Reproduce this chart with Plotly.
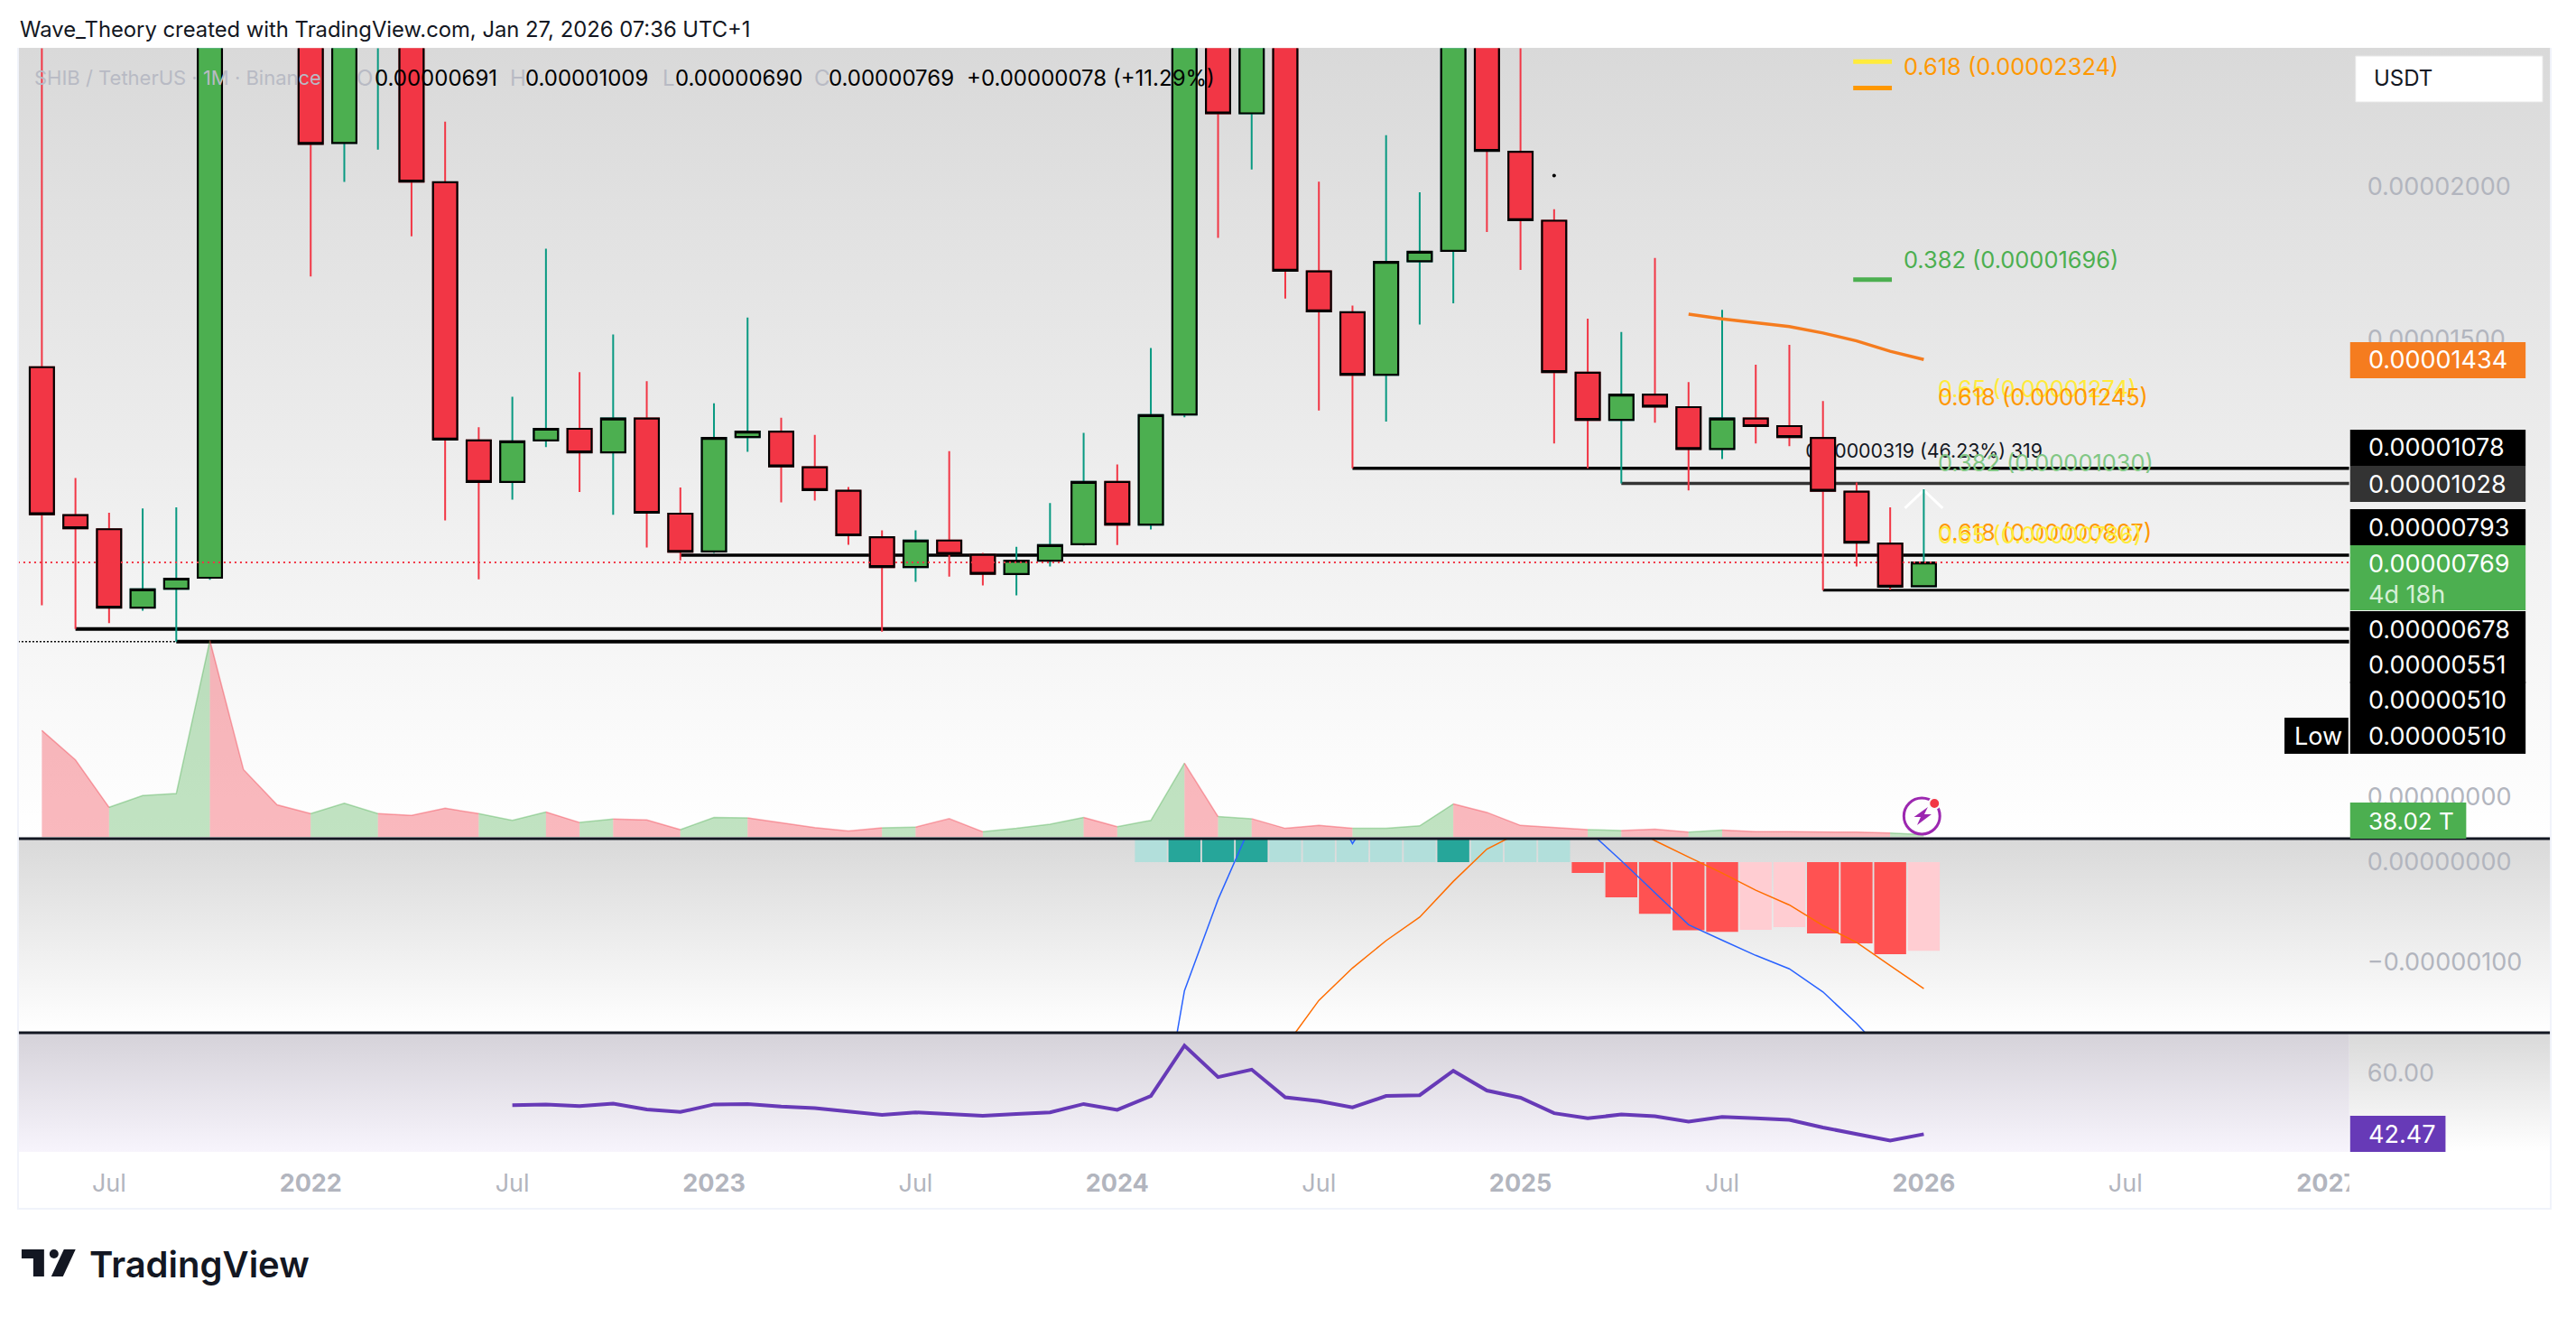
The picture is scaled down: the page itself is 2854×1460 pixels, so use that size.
import base64

import plotly.graph_objects as go

W, H = 2854, 1460

# all prices are in millionths (1e-6 USDT), month 0 = May 2021
opens = [14.09, 9.24, 8.78, 6.21, 6.83, 7.19, 70, 45, 33, 21.44, 24.8, 27.5, 20.15, 11.69, 10.33, 11.69, 12.07, 11.30, 12.41,
         9.29, 8.05, 11.80, 11.98, 10.81, 10.04, 8.52, 7.54, 8.41, 7.94, 7.31, 7.75, 8.29, 10.33, 8.93, 12.54, 27, 22.41, 25.5,
         17.23, 15.89, 13.84, 17.56, 17.90, 29, 21.15, 18.89, 13.91, 12.36, 13.19, 12.78, 11.41, 12.41, 12.16, 11.77, 10.01, 8.31, 6.91]
highs = [38, 10.46, 9.32, 9.46, 9.50, 88, 72, 48, 35, 32, 31, 29, 22.14, 12.12, 13.12, 17.97, 13.93, 15.16, 13.63,
         10.15, 12.91, 15.72, 12.43, 11.87, 10.16, 8.74, 8.74, 11.34, 8.00, 8.20, 9.64, 11.94, 10.90, 14.72, 45, 36, 33, 30,
         20.17, 16.11, 21.69, 19.82, 34, 33, 25.5, 19.27, 15.68, 15.24, 17.67, 13.60, 15.97, 14.17, 14.82, 12.98, 10.31, 9.50, 10.09]
lows = [6.29, 5.51, 5.70, 6.11, 5.10, 7.12, 38, 27, 17.06, 20.16, 21.22, 18.38, 9.07, 7.14, 9.75, 11.47, 10.00, 9.25, 8.18,
        7.76, 8.00, 11.32, 9.66, 9.72, 8.27, 5.42, 7.06, 7.23, 6.94, 6.61, 7.56, 8.25, 8.26, 8.77, 12.45, 18.33, 20.57, 16.34,
        12.67, 10.78, 12.31, 15.49, 16.18, 18.52, 17.28, 11.59, 10.78, 10.28, 12.27, 10.05, 11.08, 11.59, 11.50, 6.78, 7.56, 6.80, 6.90]
closes = [9.27, 8.81, 6.21, 6.81, 7.16, 70, 45, 33, 21.41, 28, 27.5, 20.17, 11.72, 10.33, 11.66, 12.07, 11.30, 12.41, 9.32,
          8.04, 11.77, 11.98, 10.84, 10.06, 8.58, 7.54, 8.41, 7.97, 7.32, 7.75, 8.26, 10.33, 8.93, 12.52, 27, 22.41, 25.5, 17.25,
          15.92, 13.84, 17.54, 17.87, 29, 21.18, 18.91, 13.93, 12.36, 13.19, 12.80, 11.41, 12.41, 12.16, 11.80, 10.04, 8.34, 6.90, 7.69]
months = list(range(len(closes)))

# volume in trillions
volume = [1923, 1391, 532, 745, 783, 3549, 1216, 578, 418, 608, 418, 388, 517, 418, 296, 448, 258, 319, 304,
          129, 350, 342, 251, 167, 106, 160, 175, 327, 91, 152, 228, 350, 182, 296, 1330, 365, 327, 152,
          205, 152, 152, 198, 593, 441, 205, 167, 129, 114, 137, 84, 122, 91, 91, 91, 84, 68, 38.02]

ema_months = [49, 50, 51, 52, 53, 54, 55, 56]
ema_values = [15.83, 15.67, 15.55, 15.42, 15.21, 14.95, 14.61, 14.34]

# drawn levels: price, first month, colour, width
level_prices = [10.78, 10.28, 7.93, 6.78, 5.51, 5.10]
level_starts = [39, 47, 19, 53, 1, 4]
level_colors = ['#000000', '#333333', '#000000', '#000000', '#000000', '#000000']
level_widths = [3.5, 3.5, 3.5, 3, 4, 4]
last_price = 7.69

fib_prices = [24.10, 23.24, 16.96]
fib_colors = ['#ffeb3b', '#ff9800', '#4caf50']
fib_start, fib_end = 53.9, 55.05

macd_months = list(range(33, 57))
macd_values = [-3.2, -1.284, -0.373, 0.39, 1.0, 0.8, 0.185, 0.7, 1.0, 1.4, 1.3, 1.0, 0.6, 0.32, 0.013, -0.302, -0.625,
               -0.78, -0.931, -1.065, -1.296, -1.611, -1.967, -2.15]
hist_values = [0.5, 1.2, 1.6, 1.9, 1.8, 1.6, 1.3, 1.1, 1.0, 1.2, 1.0, 0.7, 0.3, -0.109, -0.352, -0.516, -0.68, -0.696,
               -0.675, -0.65, -0.713, -0.81, -0.919, -0.885]
hist_colors = ['#b2dfdb', '#26a69a', '#26a69a', '#26a69a', '#b2dfdb', '#b2dfdb', '#b2dfdb', '#b2dfdb', '#b2dfdb', '#26a69a',
               '#b2dfdb', '#b2dfdb', '#b2dfdb', '#ff5252', '#ff5252', '#ff5252', '#ff5252', '#ff5252', '#ffcdd2', '#ffcdd2',
               '#ff5252', '#ff5252', '#ff5252', '#ffcdd2']
signal_months = list(range(37, 57))
signal_values = [-1.84, -1.38, -1.057, -0.784, -0.549, -0.193, 0.13, 0.3, 0.45, 0.5, 0.4, 0.214, 0.05, -0.109, -0.281,
                 -0.428, -0.633, -0.801, -1.032, -1.263]

rsi_months = list(range(14, 57))
rsi_values = [50.75, 50.99, 50.51, 51.23, 49.54, 48.82, 50.99, 51.11, 50.39, 49.91, 48.94, 47.98, 48.70, 48.34, 47.74,
              48.22, 48.70, 51.11, 49.42, 53.39, 67.82, 58.80, 60.96, 53.03, 51.95, 50.15, 53.39, 53.63, 60.60, 54.95,
              52.91, 48.46, 47.02, 48.10, 47.62, 46.06, 47.38, 47.02, 46.54, 44.38, 42.57, 40.65, 42.47]

tick_months = [2, 8, 14, 20, 26, 32, 38, 44, 50, 56, 62, 68]
tick_labels = ['Jul', '<b>2022</b>', 'Jul', '<b>2023</b>', 'Jul', '<b>2024</b>', 'Jul', '<b>2025</b>', 'Jul', '<b>2026</b>', 'Jul', '<b>2027</b>']

legend_x = [36, 394, 414, 565, 582, 734, 748, 903, 919, 1072]
legend_text = ['SHIB / TetherUS · 1M · Binance', 'O', '0.00000691', 'H', '0.00001009', 'L', '0.00000690', 'C', '0.00000769',
               '+0.00000078 (+11.29%)']

# axis labels: text, top pixel, bottom pixel, background
tag_text = ['0.00001434', '0.00001078', '0.00001028', '0.00000793', '0.00000678', '0.00000551', '0.00000510', '0.00000510']
tag_top = [379, 476, 516, 564, 677, 717, 755, 795]
tag_bottom = [419, 516, 556, 604, 717, 757, 795, 835]
tag_color = ['#f57c1f', '#000000', '#333333', '#000000', '#000000', '#000000', '#000000', '#000000']

fib_text = ['0.618 (0.00002324)', '0.382 (0.00001696)', '0.65 (0.00001274)', '0.618 (0.00001245)', '0.382 (0.00001030)',
            '0.618 (0.00000807)', '0.65 (0.00000786)']
fib_text_x = [2114, 2114, 2152, 2152, 2152, 2152, 2152]
fib_text_y = [74, 287, 430, 439, 512, 589, 592]
fib_text_color = ['#ff9800', '#4caf50', '#ffeb3b', '#ff9800', '#81c784', '#ff9800', '#ffeb3b']


def px(x):
    return x / W


def py(y):
    return 1 - y / H


def text(x, y, s, color, size, anchor='left', weight=None):
    return dict(xref='paper', yref='paper', x=px(x), y=py(y), text=s, showarrow=False, xanchor=anchor, yanchor='middle',
                xshift=0, font=dict(family='Inter', size=size, color=color, weight=weight))


def box(x0, y0, x1, y1, color):
    return dict(type='rect', xref='paper', yref='paper', x0=px(x0), x1=px(x1), y0=py(y0), y1=py(y1),
                fillcolor=color, line_width=0, layer='above')


def poly(points, color):
    path = 'M' + ' L'.join(f'{px(x):.5f},{py(y):.5f}' for x, y in points) + ' Z'
    return dict(type='path', xref='paper', yref='paper', path=path, fillcolor=color, line_width=0, layer='above')


def circle(cx, cy, r, fill, line_color, line_width):
    return dict(type='circle', xref='paper', yref='paper', x0=px(cx - r), x1=px(cx + r), y0=py(cy - r), y1=py(cy + r),
                fillcolor=fill, line=dict(color=line_color, width=line_width), layer='above')


def background_svg():
    # plotly has no gradient fills for shapes, so the pane backgrounds go in as one svg image
    def band(name, x, y, w, h, top, bottom):
        grad = (f'<linearGradient id="{name}" x1="0" y1="0" x2="0" y2="1"><stop offset="0" stop-color="{top}"/>'
                f'<stop offset="1" stop-color="{bottom}"/></linearGradient>')
        rect = f'<rect x="{x}" y="{y}" width="{w}" height="{h}" fill="url(#{name})"/>'
        return grad + rect
    body = band('a', 20, 53, 2815, 876, '#d9d9d9', '#ffffff')
    body += band('b', 20, 929, 2815, 215, '#d9d9d9', '#ffffff')
    body += band('c', 2611, 1144, 224, 132, '#d9d9d9', '#ffffff')
    body += band('d', 20, 1144, 2591, 132, '#d5d2d9', '#f7f4fc')
    svg = f'<svg xmlns="http://www.w3.org/2000/svg" width="{W}" height="{H}" viewBox="0 0 {W} {H}">{body}</svg>'
    return 'data:image/svg+xml;base64,' + base64.b64encode(svg.encode()).decode()


fig = go.Figure()

# volume area, one trace per run of same coloured months
start = 0
for i in range(1, len(months)):
    up = closes[i] >= opens[i]
    if i == len(months) - 1 or (closes[i + 1] >= opens[i + 1]) != up:
        rgb = '76,175,80' if up else '242,54,69'
        fig.add_trace(go.Scatter(x=months[start:i + 1], y=volume[start:i + 1], mode='lines', fill='tozeroy', yaxis='y',
                                 line=dict(color=f'rgba({rgb},0.4)', width=1.5), fillcolor=f'rgba({rgb},0.35)'))
        start = i

# measure tool leftovers sit under the candles
fig.add_trace(go.Scatter(x=[55.44, 56, 56.56], y=[9.47, 10.06, 9.47], mode='lines', yaxis='y2',
                         line=dict(color='#ffffff', width=3)))
fig.add_trace(go.Scatter(x=[52.48], y=[11.27], mode='text', text=['0.00000319 (46.23%) 319'], textposition='middle right',
                         yaxis='y2', textfont=dict(family='Inter', size=21.3, color='#131722')))

# wicks first, then the bodies with the black outline on top
fig.add_trace(go.Candlestick(x=months, open=opens, high=highs, low=lows, close=closes, yaxis='y3',
                             increasing=dict(line=dict(color='#089981', width=2), fillcolor='#089981'),
                             decreasing=dict(line=dict(color='#f23645', width=2), fillcolor='#f23645')))
fig.add_trace(go.Candlestick(x=months, open=opens, close=closes, yaxis='y3',
                             high=[max(o, c) for o, c in zip(opens, closes)], low=[min(o, c) for o, c in zip(opens, closes)],
                             increasing=dict(line=dict(color='#000000', width=2.2), fillcolor='#4caf50'),
                             decreasing=dict(line=dict(color='#000000', width=2.2), fillcolor='#f23645')))

fig.add_trace(go.Scatter(x=ema_months, y=ema_values, mode='lines', yaxis='y3', line=dict(color='#f57c1f', width=3.5)))
fig.add_trace(go.Scatter(x=[45], y=[20.37], mode='markers', yaxis='y3', marker=dict(color='#000000', size=4)))
fig.add_trace(go.Scatter(x=[-0.71, level_starts[5]], y=[level_prices[5]] * 2, mode='lines', yaxis='y3',
                         line=dict(color='#000000', width=1.5, dash='2px,2px')))
fig.add_trace(go.Scatter(x=[-0.71, 68.66], y=[last_price] * 2, mode='lines', yaxis='y3',
                         line=dict(color='#f23645', width=2, dash='2px,4px')))
for price, color in zip(fib_prices, fib_colors):
    fig.add_trace(go.Scatter(x=[fib_start, fib_end], y=[price] * 2, mode='lines', yaxis='y3', line=dict(color=color, width=5)))

# macd pane
fig.add_trace(go.Bar(x=macd_months, y=hist_values, yaxis='y4', width=0.95, marker=dict(color=hist_colors, line_width=0)))
fig.add_trace(go.Scatter(x=macd_months, y=macd_values, mode='lines', yaxis='y4', line=dict(color='#2962ff', width=1.5)))
fig.add_trace(go.Scatter(x=signal_months, y=signal_values, mode='lines', yaxis='y4', line=dict(color='#ff6d00', width=1.5)))

# rsi pane
fig.add_trace(go.Scatter(x=rsi_months, y=rsi_values, mode='lines', yaxis='y5', line=dict(color='#673ab7', width=4)))

shapes = []
for price, first, color, width in zip(level_prices, level_starts, level_colors, level_widths):
    shapes.append(dict(type='line', xref='x', yref='y3', x0=first, x1=68.66, y0=price, y1=price, layer='below',
                       line=dict(color=color, width=width)))
for y in (929, 1144):
    shapes.append(box(20, y - 1.5, 2835, y + 1.5, '#131722'))

# chart frame and the bit of the time axis that runs under the price scale
shapes.append(box(2611, 1277, 2835, 1338, '#ffffff'))
shapes.append(box(19, 53, 21, 1339, '#f0f3fa'))
shapes.append(box(2834, 53, 2836, 1339, '#f0f3fa'))
shapes.append(box(19, 1338, 2836, 1340, '#f0f3fa'))

annotations = [text(20, 32, 'Wave_Theory created with TradingView.com, Jan 27, 2026 07:36 UTC+1', '#131722', 23.8)]
for x, s in zip(legend_x, legend_text):
    gray = s in ('O', 'H', 'L', 'C') or s.startswith('SHIB')
    annotations.append(text(x, 86, s, '#b8bac4' if gray else '#000000', 22 if s.startswith('SHIB') else 24))

for s, top, bottom, color in zip(tag_text, tag_top, tag_bottom, tag_color):
    shapes.append(box(2612, top, 2807, bottom, color))
    annotations.append(text(2630, (top + bottom) / 2, s, '#ffffff', 27))

# countdown tag of the running candle
shapes.append(box(2612, 604, 2807, 676, '#4caf50'))
annotations.append(text(2630, 624, '0.00000769', '#ffffff', 27))
annotations.append(text(2630, 658, '4d 18h', '#d5efd6', 27))

shapes.append(box(2539, 795, 2610, 835, '#000000'))
annotations.append(text(2548, 815, 'Low', '#ffffff', 27))
shapes.append(box(2612, 889, 2741, 929, '#4caf50'))
annotations.append(text(2630, 909, '38.02 T', '#ffffff', 26))
shapes.append(box(2612, 1236, 2718, 1276, '#673ab7'))
annotations.append(text(2630, 1256, '42.47', '#ffffff', 27))

for s, x, y, color in zip(fib_text, fib_text_x, fib_text_y, fib_text_color):
    annotations.append(text(x, y, s, color, 25.4))

# USDT button
shapes.append(dict(type='rect', xref='paper', yref='paper', x0=px(2618), x1=px(2826), y0=py(62), y1=py(113),
                   fillcolor='#ffffff', line=dict(color='#e6e6e6', width=1), layer='above'))
annotations.append(text(2636, 87, 'USDT', '#131722', 24))

# lightning badge
shapes.append(circle(2136, 904, 20, 'rgba(0,0,0,0)', '#9c27b0', 3))
shapes.append(circle(2150, 890, 6, '#f23645', '#fafafa', 2))
shapes.append(poly([(2142.7, 894), (2127.3, 905), (2134.7, 905), (2130.7, 914), (2146.7, 902), (2138.7, 902)], '#9c27b0'))

# logo
shapes.append(poly([(24, 1384), (49, 1384), (49, 1414), (37, 1414), (37, 1394), (24, 1394)], '#131722'))
shapes.append(circle(60, 1389, 5, '#131722', '#131722', 0))
shapes.append(poly([(71, 1384), (84, 1384), (70, 1414), (57, 1414)], '#131722'))
annotations.append(text(97, 1400, 'TradingView', '#131722', 40, weight=600))

main_domain = [py(929), py(53.5)]
tick_font = dict(family='Inter', size=27, color='#b2b5be')

fig.update_layout(
    width=W, height=H, margin=dict(l=0, r=0, t=0, b=0), autosize=False,
    paper_bgcolor='#ffffff', plot_bgcolor='rgba(0,0,0,0)', showlegend=False, barmode='overlay', boxmode='overlay',
    boxgap=0.28, boxgroupgap=0,
    images=[dict(source=background_svg(), xref='paper', yref='paper', x=0, y=1, sizex=1, sizey=1, sizing='stretch',
                 xanchor='left', yanchor='top', layer='below')],
    xaxis=dict(domain=[px(20), px(2611)], range=[-0.71, 68.66], anchor='y5', tickmode='array', tickvals=tick_months, ticktext=tick_labels,
               tickfont=dict(family='Inter', size=27, color='#b2b5be'), ticks='', ticklabelstandoff=16, showgrid=False, zeroline=False,
               showline=False, rangeslider=dict(visible=False)),
    yaxis=dict(domain=main_domain, range=[-34, 14257], visible=False, fixedrange=True),
    yaxis2=dict(overlaying='y', range=[-1.36, 24.54], visible=False),
    yaxis3=dict(overlaying='y', range=[-1.36, 24.54], side='right', anchor='x', tickmode='array', tickvals=[20, 15, 0],
                ticktext=['0.00002000', '0.00001500', '0.00000000'], tickfont=tick_font, ticks='', ticklabelstandoff=19,
                showgrid=False, zeroline=False, showline=False),
    yaxis4=dict(domain=[py(1144), py(929)], range=[-1.703, 0.234], side='right', anchor='x', tickmode='array', tickvals=[0, -1],
                ticktext=['0.00000000', '−0.00000100'], tickfont=tick_font, ticks='', ticklabelstandoff=19,
                showgrid=False, zeroline=False, showline=False),
    yaxis5=dict(domain=[py(1275.6), py(1144)], range=[37.5, 71.5], side='right', anchor='x', tickmode='array', tickvals=[60],
                ticktext=['60.00'], tickfont=tick_font, ticks='', ticklabelstandoff=19, showgrid=False, zeroline=False, showline=False),
    shapes=shapes, annotations=annotations,
)

fig.write_html('out.html', config={'displayModeBar': False}, post_script="document.body.style.margin='0';")
